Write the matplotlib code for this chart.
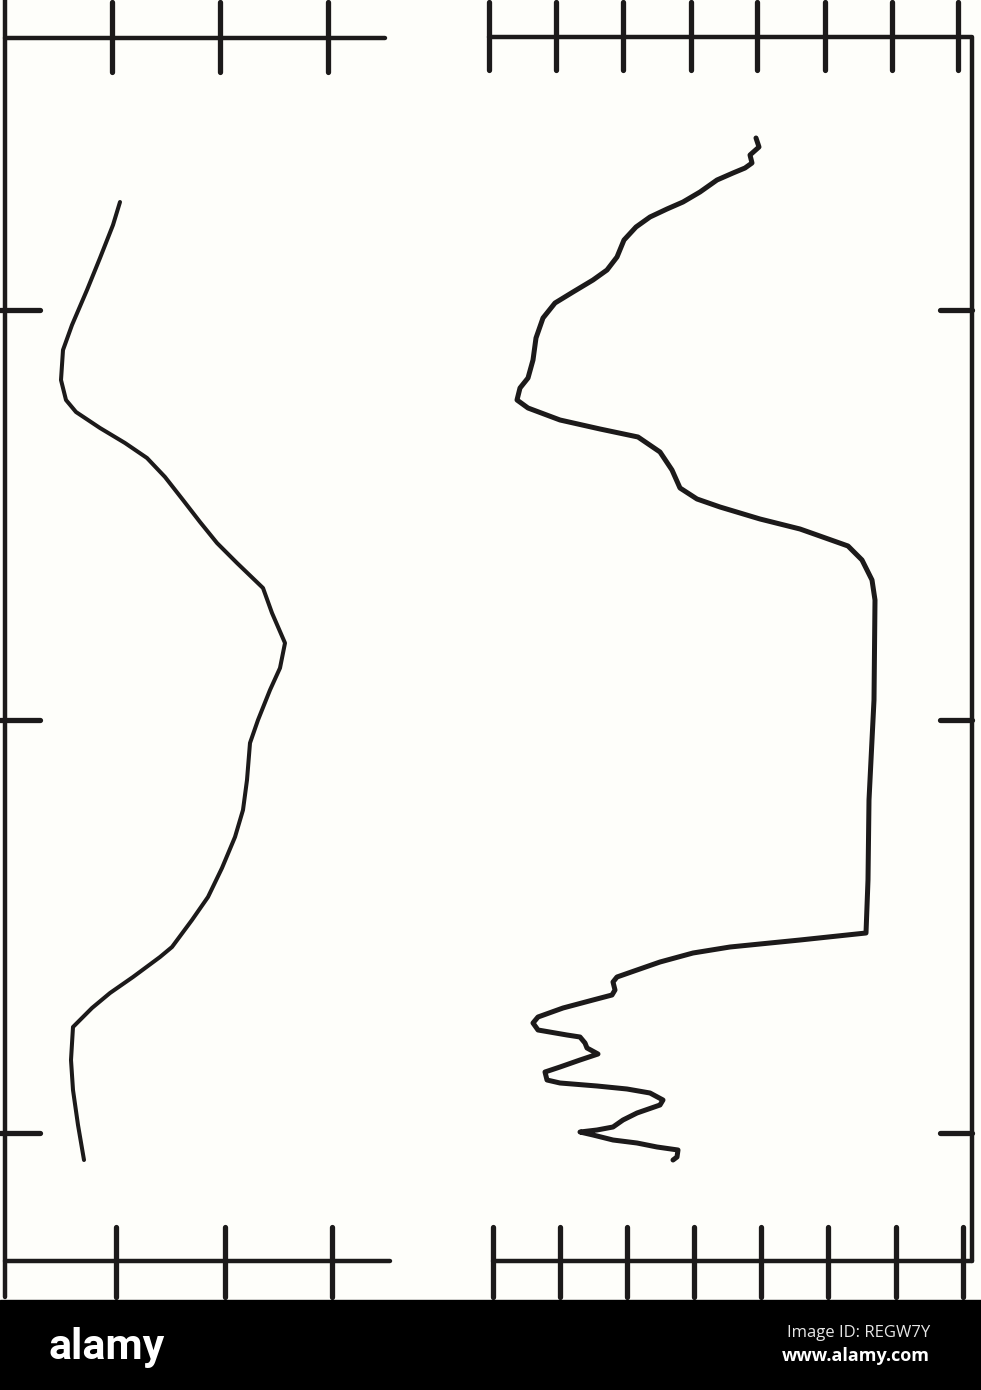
import matplotlib.pyplot as plt

# profile traces (pixel units of the page)
left_x = [120, 113, 100, 87, 72, 63, 61, 66, 76, 100, 125, 147, 165, 183, 200,
          217, 237, 263, 272, 285, 280, 270, 258, 250, 247, 243, 235, 222, 208,
          192, 172, 160, 133, 110, 92, 73, 71, 73, 78, 84]
left_y = [202, 225, 258, 290, 325, 350, 380, 400, 412, 428, 443, 458, 477, 500, 522,
          543, 563, 588, 613, 643, 668, 690, 720, 743, 780, 810, 837, 868, 897,
          920, 947, 957, 977, 993, 1008, 1027, 1060, 1090, 1125, 1160]

right_x = [756, 759, 750, 752, 745, 733, 717, 700, 683, 667, 650, 636, 624, 617, 607,
           593, 573, 555, 543, 536, 533, 528, 520, 517, 528, 560, 600, 638, 660, 672, 680,
           697, 720, 760, 800, 817, 848, 862, 872, 875, 874, 871, 869, 868, 866,
           800, 730, 693, 660, 637, 617, 613, 615, 612, 593, 563, 538, 533, 538, 567,
           580, 585, 587, 598, 580, 560, 545, 547, 560, 597, 627, 650, 663, 660, 637,
           623, 613, 597, 580, 593, 613, 637, 657, 678, 677, 673]
right_y = [138, 147, 155, 163, 168, 173, 180, 192, 202, 209, 217, 227, 240, 257, 270,
           280, 292, 303, 318, 338, 360, 378, 388, 400, 408, 420, 429, 437, 452, 470, 488,
           499, 507, 519, 529, 535, 546, 560, 580, 600, 700, 760, 800, 880, 933,
           940, 947, 953, 962, 970, 977, 982, 990, 995, 1000, 1008, 1017, 1023, 1030, 1035,
           1037, 1043, 1048, 1054, 1060, 1067, 1072, 1080, 1083, 1086, 1089, 1093, 1100, 1105, 1113,
           1120, 1127, 1130, 1132, 1135, 1140, 1143, 1147, 1150, 1157, 1160]

# tick positions
left_top_ticks = [112, 220, 328]
left_bot_ticks = [116, 225, 332]
right_top_ticks = [489, 556, 623, 691, 757, 825, 892, 958]
right_bot_ticks = [493, 560, 627, 694, 761, 828, 896, 963]
side_ticks = [310, 720, 1133]

W, H = 981, 1390
fig = plt.figure(figsize=(W / 100, H / 100), dpi=100, facecolor='#fefefa')
ax = fig.add_axes([0, 0, 1, 1])
ax.set_xlim(0, W)
ax.set_ylim(H, 0)
ax.axis('off')

ink = '#1c1a1a'
kw = dict(color=ink, lw=3.2, solid_capstyle='round')
tk = dict(color=ink, lw=3.8, capstyle='round')

# left panel frame
ax.plot([5, 5], [0, 1297], **kw)
ax.plot([5, 385], [38, 38], **kw)
ax.plot([5, 390], [1261, 1261], **kw)
ax.vlines(left_top_ticks, 2, 72, **tk)
ax.vlines(left_bot_ticks, 1227, 1297, **tk)
ax.hlines(side_ticks, 0, 40, **tk)

# right panel frame
ax.plot([489, 972, 972], [37, 37, 1261], **kw)
ax.plot([493, 972], [1261, 1261], **kw)
ax.vlines(right_top_ticks, 2, 70, **tk)
ax.vlines(right_bot_ticks, 1227, 1297, **tk)
ax.hlines(side_ticks, 940, 972, **tk)

# profiles
ax.plot(left_x, left_y, color=ink, lw=2.9, solid_joinstyle='round', solid_capstyle='round')
ax.plot(right_x, right_y, color=ink, lw=3.6, solid_joinstyle='round', solid_capstyle='round')

# watermark strip
ax.axhspan(1300, H, color='black', zorder=5)
ax.text(48, 1359, 'alamy', color='white', fontsize=31, fontweight='bold',
        family='Roboto', ha='left', va='baseline', zorder=6)
ax.text(930, 1333, 'Image ID: REGW7Y', color='#e6e6e6', fontsize=12,
        family='Open Sans', ha='right', va='center', zorder=6)
ax.text(930, 1356, 'www.alamy.com', color='white', fontsize=13, fontweight='bold',
        family='Open Sans', ha='right', va='center', zorder=6)

plt.savefig('out.png', dpi=100, facecolor=fig.get_facecolor())
